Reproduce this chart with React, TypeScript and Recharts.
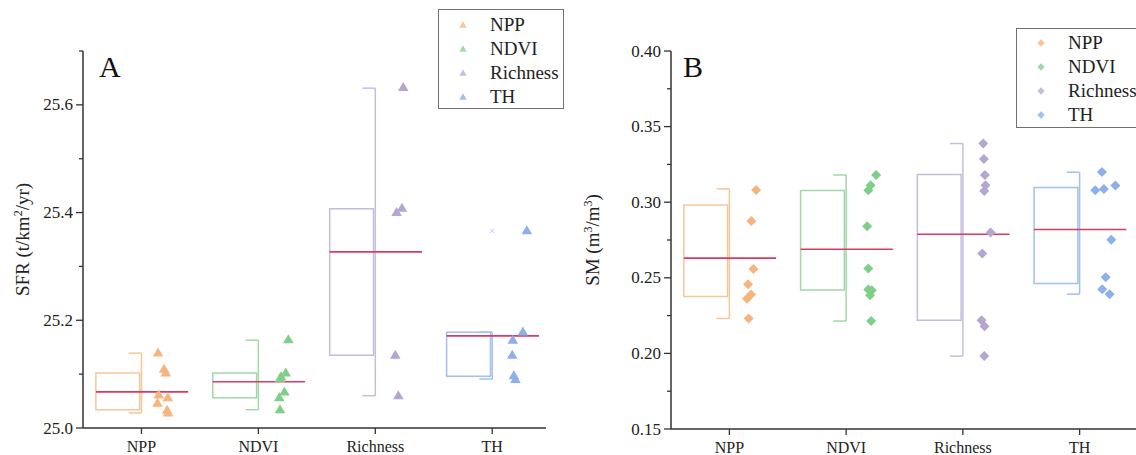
import React from 'react';
import {
  ComposedChart,
  Scatter,
  XAxis,
  YAxis,
  ReferenceArea,
  ReferenceLine,
  Legend,
} from 'recharts';

// ---------- data ----------
const CATEGORIES = ['NPP', 'NDVI', 'Richness', 'TH'];
const CAT_POS = [1, 2, 3, 4];

const POINT_COLORS = ['#F6B57E', '#7ECF89', '#B3A6D0', '#8DB0EA'];
const BOX_COLORS = ['#F6C69A', '#A2D8A8', '#C6BDDE', '#A2BFEF'];
const MEAN_COLOR = '#D93A62';

// Panel A: SFR
const sfrTicks = [25.0, 25.1, 25.2, 25.3, 25.4, 25.5, 25.6, 25.7];
const sfrQ1 = [25.034, 25.056, 25.135, 25.096];
const sfrQ3 = [25.102, 25.102, 25.407, 25.178];
const sfrLow = [25.028, 25.034, 25.06, 25.091];
const sfrHigh = [25.139, 25.163, 25.631, 25.178];
const sfrMean = [25.067, 25.086, 25.327, 25.171];
const sfrNpp = [25.14, 25.11, 25.103, 25.062, 25.057, 25.047, 25.034, 25.029];
const sfrNppJitter = [0.142, 0.193, 0.208, 0.148, 0.225, 0.137, 0.219, 0.227];
const sfrNdvi = [25.165, 25.103, 25.096, 25.093, 25.068, 25.057, 25.035];
const sfrNdviJitter = [0.256, 0.234, 0.194, 0.185, 0.222, 0.179, 0.185];
const sfrRichness = [25.633, 25.409, 25.401, 25.136, 25.061];
const sfrRichnessJitter = [0.239, 0.228, 0.182, 0.171, 0.197];
const sfrTh = [25.367, 25.179, 25.164, 25.136, 25.098, 25.091];
const sfrThJitter = [0.296, 0.262, 0.176, 0.171, 0.185, 0.199];
const sfrOutlierCat = [4];
const sfrOutlierVal = [25.366];

// Panel B: SM
const smTicks = [0.15, 0.175, 0.2, 0.225, 0.25, 0.275, 0.3, 0.325, 0.35, 0.375, 0.4];
const smQ1 = [0.2377, 0.242, 0.222, 0.2463];
const smQ3 = [0.2982, 0.3077, 0.3183, 0.3097];
const smLow = [0.2231, 0.2214, 0.1982, 0.2392];
const smHigh = [0.3088, 0.318, 0.3388, 0.3198];
const smMean = [0.263, 0.2689, 0.2788, 0.2819];
const smNpp = [0.3081, 0.2876, 0.2559, 0.2458, 0.239, 0.2361, 0.2231];
const smNppJitter = [0.229, 0.189, 0.206, 0.16, 0.186, 0.151, 0.165];
const smNdvi = [0.318, 0.3112, 0.3079, 0.2841, 0.2562, 0.2423, 0.2418, 0.2385, 0.2214];
const smNdviJitter = [0.257, 0.21, 0.19, 0.18, 0.19, 0.19, 0.22, 0.205, 0.214];
const smRichness = [0.3388, 0.3286, 0.318, 0.3112, 0.3074, 0.28, 0.2661, 0.222, 0.218, 0.1982];
const smRichnessJitter = [0.174, 0.18, 0.189, 0.194, 0.183, 0.237, 0.166, 0.16, 0.186, 0.183];
const smTh = [0.32, 0.3079, 0.3088, 0.311, 0.2751, 0.2504, 0.2425, 0.2392];
const smThJitter = [0.191, 0.134, 0.208, 0.306, 0.271, 0.223, 0.194, 0.257];

// ---------- style / layout ----------
const FONT = '"Liberation Serif", "Times New Roman", serif';
const AXIS_COLOR = '#333';
const TEXT_COLOR = '#222';
const BOX_LEFT = -0.39;
const BOX_RIGHT = -0.015;
const CAP_LEFT = -0.11;
const MEAN_RIGHT = 0.4;

const Triangle = (props: any) => {
  const { cx, cy, fill } = props;
  if (cx == null || cy == null) return null;
  return <path d={`M${cx},${cy - 5} L${cx + 5.3},${cy + 4} L${cx - 5.3},${cy + 4} Z`} fill={fill} />;
};
const Diamond = (props: any) => {
  const { cx, cy, fill } = props;
  if (cx == null || cy == null) return null;
  return <path d={`M${cx},${cy - 5} L${cx + 5},${cy} L${cx},${cy + 5} L${cx - 5},${cy} Z`} fill={fill} />;
};
const Cross = (props: any) => {
  const { cx, cy } = props;
  if (cx == null || cy == null) return null;
  return (
    <g stroke="#B9CDF2" strokeWidth={1}>
      <line x1={cx - 2} y1={cy - 2} x2={cx + 2} y2={cy + 2} />
      <line x1={cx - 2} y1={cy + 2} x2={cx + 2} y2={cy - 2} />
    </g>
  );
};

const makeYTick = (isMajor: (i: number) => boolean, fmt: (v: number) => string) => (props: any) => {
  const { x, y, payload, index } = props;
  const major = isMajor(index);
  const len = major ? 7 : 4;
  return (
    <g>
      <line x1={x - len} x2={x} y1={y} y2={y} stroke={AXIS_COLOR} strokeWidth={1.3} />
      {major && (
        <text
          x={x - 10}
          y={y}
          textAnchor="end"
          dominantBaseline="central"
          fontSize={17}
          fontFamily={FONT}
          fill={TEXT_COLOR}
        >
          {fmt(payload.value)}
        </text>
      )}
    </g>
  );
};

const makeYLabel = (parts: { t: string; sup?: boolean }[]) => (props: any) => {
  const vb = props && props.viewBox ? props.viewBox : { x: 0, y: 51, width: 83, height: 377 };
  const cx = 29;
  const cy = vb.y + vb.height / 2;
  return (
    <text
      x={cx}
      y={cy}
      transform={`rotate(-90, ${cx}, ${cy})`}
      textAnchor="middle"
      fontSize={19}
      fontFamily={FONT}
      fill={TEXT_COLOR}
    >
      {parts.map((p, i) =>
        p.sup ? (
          <tspan key={i} dy={-7} fontSize={12}>
            {p.t}
          </tspan>
        ) : (
          <tspan key={i} dy={i > 0 && parts[i - 1].sup ? 7 : 0}>
            {p.t}
          </tspan>
        )
      )}
    </text>
  );
};

const makeLegend = (shape: 'triangle' | 'diamond', rowH: number, padTop: number) => () => (
  <div
    style={{
      width: '100%',
      height: '100%',
      boxSizing: 'border-box',
      border: '1.3px solid #707070',
      background: '#fff',
      paddingTop: padTop,
      fontFamily: FONT,
      fontSize: 19,
      color: TEXT_COLOR,
    }}
  >
    {CATEGORIES.map((c, i) => (
      <div key={c} style={{ height: rowH, display: 'flex', alignItems: 'center', position: 'relative' }}>
        <svg width={12} height={12} style={{ position: 'absolute', left: 18, top: rowH / 2 - 6 }}>
          {shape === 'triangle' ? (
            <path d="M6,2.2 L9.6,8.8 L2.4,8.8 Z" fill={BOX_COLORS[i]} />
          ) : (
            <path d="M6,2.3 L9.7,6 L6,9.7 L2.3,6 Z" fill={BOX_COLORS[i]} />
          )}
        </svg>
        <span style={{ position: 'absolute', left: 51, lineHeight: `${rowH}px`, whiteSpace: 'nowrap' }}>{c}</span>
      </div>
    ))}
  </div>
);

type PanelProps = {
  width: number;
  height: number;
  margin: { top: number; right: number; left: number; bottom: number };
  yAxisWidth: number;
  xAxisHeight: number;
  xDomain: [number, number];
  yDomain: [number, number];
  yTicks: number[];
  isMajor: (i: number) => boolean;
  fmt: (v: number) => string;
  q1: number[];
  q3: number[];
  low: number[];
  high: number[];
  mean: number[];
  points: number[][];
  jitters: number[][];
  shape: 'triangle' | 'diamond';
  outliers: { x: number; y: number }[];
  yLabel: { t: string; sup?: boolean }[];
  legendStyle: React.CSSProperties;
  legendRowH: number;
  legendPad: number;
};

const Panel = (p: PanelProps) => {
  const Shape = p.shape === 'triangle' ? Triangle : Diamond;
  return (
    <ComposedChart width={p.width} height={p.height} margin={p.margin}>
      <XAxis
        type="number"
        dataKey="x"
        domain={p.xDomain}
        ticks={CAT_POS}
        allowDataOverflow
        tickFormatter={(v: number) => CATEGORIES[Math.round(v) - 1] ?? ''}
        height={p.xAxisHeight}
        tickSize={6}
        tickMargin={7}
        axisLine={{ stroke: AXIS_COLOR, strokeWidth: 1.5 }}
        tickLine={{ stroke: AXIS_COLOR, strokeWidth: 1.3 }}
        tick={{ fontSize: 16, fontFamily: FONT, fill: TEXT_COLOR }}
        interval={0}
      />
      <YAxis
        type="number"
        dataKey="y"
        domain={p.yDomain}
        ticks={p.yTicks}
        allowDataOverflow
        width={p.yAxisWidth}
        tickSize={0}
        tickMargin={0}
        tickLine={false}
        interval={0}
        axisLine={{ stroke: AXIS_COLOR, strokeWidth: 1.5 }}
        tick={makeYTick(p.isMajor, p.fmt)}
        label={makeYLabel(p.yLabel)}
      />
      <Legend
        layout="vertical"
        align="center"
        verticalAlign="middle"
        content={makeLegend(p.shape, p.legendRowH, p.legendPad)}
        wrapperStyle={p.legendStyle}
      />
      {CAT_POS.map((c, i) => (
        <ReferenceArea
          key={`box-${i}`}
          x1={c + BOX_LEFT}
          x2={c + BOX_RIGHT}
          y1={p.q1[i]}
          y2={p.q3[i]}
          fill="none"
          fillOpacity={0}
          stroke={BOX_COLORS[i]}
          strokeWidth={1.5}
          ifOverflow="visible"
        />
      ))}
      {CAT_POS.map((c, i) => (
        <ReferenceLine
          key={`wh-${i}`}
          segment={[
            { x: c, y: p.low[i] },
            { x: c, y: p.high[i] },
          ]}
          stroke={BOX_COLORS[i]}
          strokeWidth={1.5}
          ifOverflow="visible"
        />
      ))}
      {CAT_POS.map((c, i) => (
        <ReferenceLine
          key={`caph-${i}`}
          segment={[
            { x: c + CAP_LEFT, y: p.high[i] },
            { x: c, y: p.high[i] },
          ]}
          stroke={BOX_COLORS[i]}
          strokeWidth={1.5}
          ifOverflow="visible"
        />
      ))}
      {CAT_POS.map((c, i) => (
        <ReferenceLine
          key={`capl-${i}`}
          segment={[
            { x: c + CAP_LEFT, y: p.low[i] },
            { x: c, y: p.low[i] },
          ]}
          stroke={BOX_COLORS[i]}
          strokeWidth={1.5}
          ifOverflow="visible"
        />
      ))}
      {CAT_POS.map((c, i) => (
        <ReferenceLine
          key={`mean-${i}`}
          segment={[
            { x: c + BOX_LEFT, y: p.mean[i] },
            { x: c + MEAN_RIGHT, y: p.mean[i] },
          ]}
          stroke={MEAN_COLOR}
          strokeWidth={1.6}
          ifOverflow="visible"
        />
      ))}
      {CAT_POS.map((c, i) => (
        <Scatter
          key={`pts-${i}`}
          name={CATEGORIES[i]}
          data={p.points[i].map((v, j) => ({ x: c + p.jitters[i][j], y: v }))}
          fill={POINT_COLORS[i]}
          shape={<Shape />}
          isAnimationActive={false}
        />
      ))}
      {p.outliers.length > 0 && (
        <Scatter
          name="outlier"
          legendType="none"
          data={p.outliers}
          fill="#B9CDF2"
          shape={<Cross />}
          isAnimationActive={false}
        />
      )}
    </ComposedChart>
  );
};

export default function App() {
  return (
    <div
      style={{
        position: 'fixed',
        left: 0,
        top: 0,
        width: 1136,
        height: 455,
        overflow: 'hidden',
        background: '#fff',
        fontFamily: FONT,
      }}
    >
      <div style={{ position: 'absolute', left: 0, top: 0 }}>
        <Panel
          width={570}
          height={455}
          margin={{ top: 51, right: 24, left: 0, bottom: 0 }}
          yAxisWidth={83}
          xAxisHeight={27}
          xDomain={[0.5, 4.46]}
          yDomain={[25.0, 25.7]}
          yTicks={sfrTicks}
          isMajor={(i) => i % 2 === 0}
          fmt={(v) => v.toFixed(1)}
          q1={sfrQ1}
          q3={sfrQ3}
          low={sfrLow}
          high={sfrHigh}
          mean={sfrMean}
          points={[sfrNpp, sfrNdvi, sfrRichness, sfrTh]}
          jitters={[sfrNppJitter, sfrNdviJitter, sfrRichnessJitter, sfrThJitter]}
          shape="triangle"
          outliers={sfrOutlierCat.map((c, i) => ({ x: c, y: sfrOutlierVal[i] }))}
          yLabel={[{ t: 'SFR (t/km' }, { t: '2', sup: true }, { t: '/yr)' }]}
          legendStyle={{ position: 'absolute', left: 438, top: 9, width: 126, height: 100 }}
          legendRowH={24.2}
          legendPad={2.6}
        />
      </div>
      <div style={{ position: 'absolute', left: 570, top: 0 }}>
        <Panel
          width={588}
          height={455}
          margin={{ top: 51, right: 20, left: 0, bottom: 0 }}
          yAxisWidth={101}
          xAxisHeight={26}
          xDomain={[0.5, 4.5]}
          yDomain={[0.15, 0.4]}
          yTicks={smTicks}
          isMajor={(i) => i % 2 === 0}
          fmt={(v) => v.toFixed(2)}
          q1={smQ1}
          q3={smQ3}
          low={smLow}
          high={smHigh}
          mean={smMean}
          points={[smNpp, smNdvi, smRichness, smTh]}
          jitters={[smNppJitter, smNdviJitter, smRichnessJitter, smThJitter]}
          shape="diamond"
          outliers={[]}
          yLabel={[{ t: 'SM (m' }, { t: '3', sup: true }, { t: '/m' }, { t: '3', sup: true }, { t: ')' }]}
          legendStyle={{ position: 'absolute', left: 446, top: 28, width: 126, height: 100 }}
          legendRowH={24}
          legendPad={2.3}
        />
      </div>
      <svg
        width={1136}
        height={455}
        style={{ position: 'absolute', left: 0, top: 0, pointerEvents: 'none' }}
      >
        <text x={99} y={77} fontSize={30} fontFamily={FONT} fill="#111">
          A
        </text>
        <text x={683} y={77} fontSize={30} fontFamily={FONT} fill="#111">
          B
        </text>
      </svg>
    </div>
  );
}
